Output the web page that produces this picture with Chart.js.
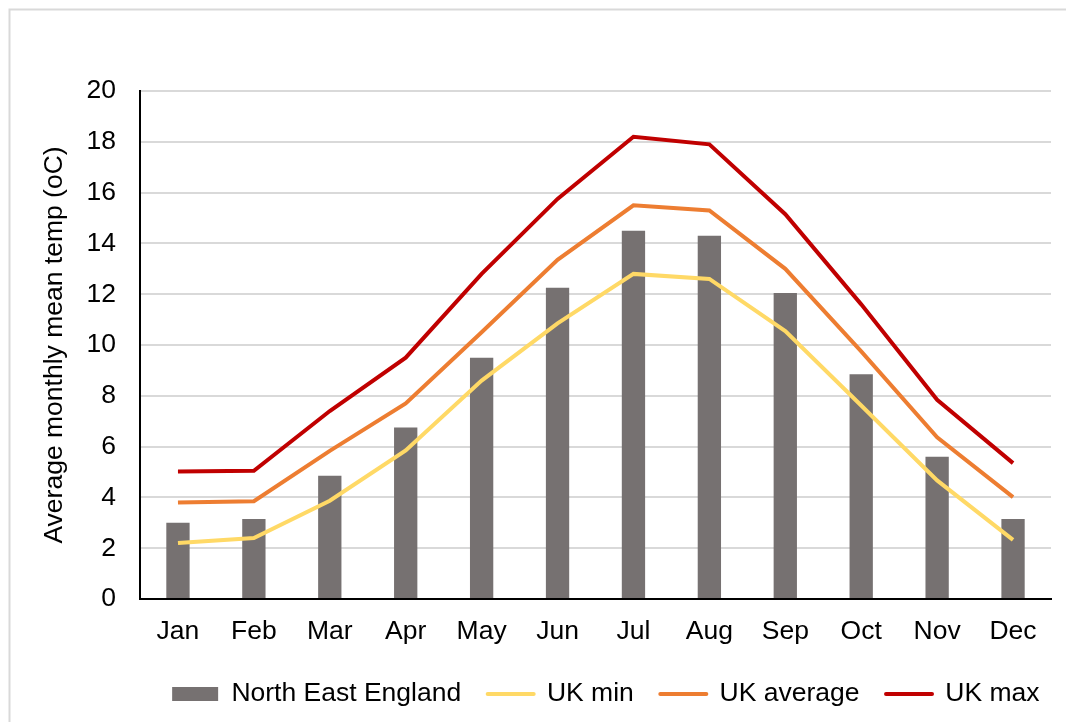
<!DOCTYPE html>
<html>
<head>
<meta charset="utf-8">
<script src="https://cdn.jsdelivr.net/npm/chart.js@4/dist/chart.umd.min.js"></script>
<style>
html,body{margin:0;padding:0;background:#fff;}
canvas{display:block;}
</style>
</head>
<body>
<canvas id="c" width="1066" height="722"></canvas>
<script>
const months = ['Jan','Feb','Mar','Apr','May','Jun','Jul','Aug','Sep','Oct','Nov','Dec'];
const northEastEngland = [3.0, 3.15, 4.85, 6.75, 9.5, 12.25, 14.5, 14.3, 12.05, 8.85, 5.6, 3.15];
const ukMin = [2.2, 2.4, 3.87, 5.85, 8.6, 10.85, 12.8, 12.6, 10.55, 7.62, 4.67, 2.33];
const ukAverage = [3.8, 3.85, 5.83, 7.7, 10.5, 13.35, 15.5, 15.3, 13.0, 9.75, 6.37, 4.01];
const ukMax = [5.02, 5.05, 7.4, 9.5, 12.8, 15.75, 18.2, 17.9, 15.15, 11.6, 7.84, 5.35];
const yTicks = [0, 2, 4, 6, 8, 10, 12, 14, 16, 18, 20];

const FONT = "'Liberation Sans', Arial, sans-serif";
const FS = 26.5;

const borderPlugin = {
  id: 'outerBorder',
  beforeDraw(chart) {
    const ctx = chart.ctx;
    ctx.save();
    ctx.strokeStyle = '#d9d9d9';
    ctx.lineWidth = 2;
    ctx.strokeRect(9.5, 9.5, 1200, 900);
    ctx.restore();
  }
};

new Chart(document.getElementById('c'), {
  data: {
    labels: months,
    datasets: [
      {type:'bar', label:'North East England', data:northEastEngland, backgroundColor:'#767171', borderWidth:0, barPercentage:0.307, categoryPercentage:1, order:5},
      {type:'line', label:'UK min', data:ukMin, borderColor:'#FFD966', backgroundColor:'#FFD966', borderWidth:4, pointRadius:0, tension:0, fill:false, order:1},
      {type:'line', label:'UK average', data:ukAverage, borderColor:'#ED7D31', backgroundColor:'#ED7D31', borderWidth:4, pointRadius:0, tension:0, fill:false, order:1},
      {type:'line', label:'UK max', data:ukMax, borderColor:'#C00000', backgroundColor:'#C00000', borderWidth:4, pointRadius:0, tension:0, fill:false, order:1}
    ]
  },
  options: {
    responsive:false,
    animation:false,
    devicePixelRatio:1,
    layout:{padding:{top:91, left:0, right:0, bottom:4.75}},
    plugins:{
      tooltip:{enabled:false},
      legend:{
        position:'bottom',
        align:'end',
        labels:{
          font:{family:FONT, size:FS},
          color:'#000',
          usePointStyle:true,
          pointStyleWidth:46,
          boxHeight:14,
          padding:26.5,
          generateLabels(chart){
            return chart.data.datasets.map((ds,i)=>({
              text: ds.label,
              fillStyle: ds.type==='bar' ? ds.backgroundColor : ds.borderColor,
              strokeStyle: ds.type==='bar' ? ds.backgroundColor : ds.borderColor,
              lineWidth: ds.type==='bar' ? 0 : 4,
              lineCap: 'round',
              pointStyle: ds.type==='bar' ? 'rect' : 'line',
              fontColor:'#000',
              hidden:false,
              datasetIndex:i
            }));
          }
        }
      }
    },
    scales:{
      x:{
        grid:{display:false, drawTicks:false},
        border:{display:true, color:'#000', width:2},
        ticks:{font:{family:FONT, size:FS}, color:'#000', padding:17, maxRotation:0},
        afterFit(s){ s.height = 55.25; }
      },
      y:{
        min:0, max:20,
        afterBuildTicks(s){ s.ticks = yTicks.map(v=>({value:v})); },
        grid:{color:'#d9d9d9', lineWidth:2, drawTicks:false},
        border:{display:true, color:'#000', width:2},
        ticks:{font:{family:FONT, size:FS}, color:'#000', padding:24},
        title:{display:true, text:'Average monthly mean temp (oC)', font:{family:FONT, size:FS}, color:'#000', padding:{top:39, bottom:0}},
        afterFit(s){ s.width = 140; }
      },
      yRight:{
        position:'right',
        display:true,
        grid:{display:false, drawTicks:false},
        border:{display:false},
        ticks:{display:false},
        afterFit(s){ s.width = 15; }
      }
    }
  },
  plugins:[borderPlugin]
});
</script>
</body>
</html>
